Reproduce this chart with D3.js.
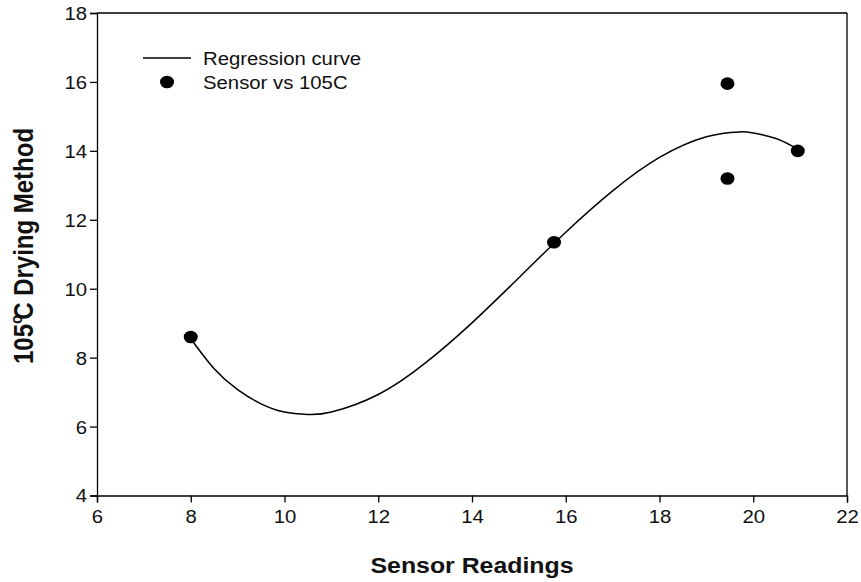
<!DOCTYPE html>
<html>
<head>
<meta charset="utf-8">
<script src="https://cdn.jsdelivr.net/npm/d3@7"></script>
<style>
  html, body { margin: 0; padding: 0; background: #fff; }
  svg { display: block; font-family: Arial, "Liberation Sans", sans-serif; }
</style>
</head>
<body>
<svg id="chart" width="861" height="582"></svg>
<script>
// ---- data ----
const sensorX = [8.0, 15.75, 19.45, 19.45, 20.95];
const dryingY = [8.6, 11.35, 15.95, 13.2, 14.0];

const curveX = [8, 8.5, 9, 9.5, 10, 10.5, 11, 12, 13, 14, 15, 16, 17, 18, 19, 19.7, 20, 20.5, 21];
const curveY = [8.55, 7.68, 7.07, 6.66, 6.42, 6.35, 6.42, 6.93, 7.84, 9.01, 10.32, 11.64, 12.84, 13.81, 14.41, 14.55, 14.52, 14.35, 14.01];

const xTicks = [6, 8, 10, 12, 14, 16, 18, 20, 22];
const yTicks = [4, 6, 8, 10, 12, 14, 16, 18];

const legendLabels = ["Regression curve", "Sensor vs 105C"];

// ---- layout ----
const svg = d3.select("#chart");
const L = 97, R = 847, T = 13, B = 495.5;
const SX = 1.13; // horizontal text stretch seen in reference

const x = d3.scaleLinear().domain([6, 22]).range([L, R]);
const y = d3.scaleLinear().domain([4, 18]).range([B, T]);

// frame (top & right)
svg.append("line").attr("x1", L).attr("x2", R).attr("y1", T).attr("y2", T)
  .attr("stroke", "#000").attr("stroke-width", 1.3);
svg.append("line").attr("x1", R).attr("x2", R).attr("y1", T).attr("y2", B)
  .attr("stroke", "#000").attr("stroke-width", 1.3);

// axes
const xAxis = svg.append("g").attr("transform", `translate(0,${B})`)
  .call(d3.axisBottom(x).tickValues(xTicks).tickSize(7).tickPadding(6).tickFormat(d3.format("d")));
const yAxis = svg.append("g").attr("transform", `translate(${L},0)`)
  .call(d3.axisLeft(y).tickValues(yTicks).tickSize(7).tickPadding(8).tickFormat(d3.format("d")));

[xAxis, yAxis].forEach(g => {
  g.select(".domain").attr("stroke", "#000").attr("stroke-width", 1.3);
  g.selectAll(".tick line").attr("stroke", "#000").attr("stroke-width", 1.3);
  g.selectAll(".tick text").attr("font-size", 18).attr("fill", "#111")
    .attr("font-family", "Arial, 'Liberation Sans', sans-serif");
});
xAxis.selectAll(".tick text").attr("transform", `scale(${SX},1)`).attr("dy", "0.72em").attr("y", 15);
yAxis.selectAll(".tick text").attr("transform", `scale(${SX},1)`).attr("x", -10 / SX).attr("dy", "0.36em");

// regression curve
const pts = curveX.map((v, i) => [v, curveY[i]]);
svg.append("path")
  .datum(pts)
  .attr("fill", "none")
  .attr("stroke", "#000")
  .attr("stroke-width", 1.5)
  .attr("d", d3.line().x(d => x(d[0])).y(d => y(d[1])).curve(d3.curveNatural));

// points
svg.append("g").selectAll("ellipse")
  .data(sensorX.map((v, i) => [v, dryingY[i]]))
  .join("ellipse")
  .attr("cx", d => x(d[0])).attr("cy", d => y(d[1]))
  .attr("rx", 7).attr("ry", 6.3).attr("fill", "#000");

// legend
svg.append("line").attr("x1", 143).attr("x2", 191).attr("y1", 58).attr("y2", 58)
  .attr("stroke", "#000").attr("stroke-width", 1.5);
svg.append("ellipse").attr("cx", 167).attr("cy", 82).attr("rx", 7).attr("ry", 6.3).attr("fill", "#000");
legendLabels.forEach((t, i) => {
  svg.append("text")
    .attr("transform", `translate(203,${65 + i * 24}) scale(${SX},1)`)
    .attr("font-size", 18).attr("fill", "#111").text(t);
});

// x axis title
svg.append("text")
  .attr("transform", `translate(${(L + R) / 2},573) scale(${SX},1)`)
  .attr("text-anchor", "middle").attr("font-size", 22).attr("font-weight", "bold")
  .attr("fill", "#111").text("Sensor Readings");

// y axis title with superscript o
const yt = svg.append("text")
  .attr("transform", `translate(33,246) rotate(-90) scale(1,${SX})`)
  .attr("text-anchor", "middle").attr("font-size", 24).attr("font-weight", "bold")
  .attr("fill", "#111");
yt.append("tspan").text("105");
yt.append("tspan").attr("font-size", 15).attr("dy", -10).attr("dx", 0).text("o");
yt.append("tspan").attr("dy", 10).attr("dx", -5).text("C Drying Method");
</script>
</body>
</html>
